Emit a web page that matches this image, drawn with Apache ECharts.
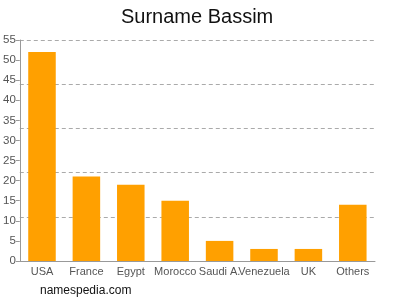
<!DOCTYPE html>
<html><head><meta charset="utf-8">
<script src="https://cdn.jsdelivr.net/npm/echarts@6/dist/echarts.min.js"></script>
<style>html,body{margin:0;padding:0;background:#fff}#c{width:400px;height:300px}</style>
</head><body><div id="c"></div>
<script>
const categories = ['USA','France','Egypt','Morocco','Saudi A.','Venezuela','UK','Others'];
const values = [52, 21, 19, 15, 5, 3, 3, 14];
const chart = echarts.init(document.getElementById('c'), null, {renderer:'canvas'});
chart.setOption({
  animation:false,
  title:[
    {text:'Surname Bassim', left:116, top:2, textStyle:{fontFamily:'Liberation Sans, Arial', fontSize:20, fontWeight:'normal', color:'#111'}},
    {text:'namespedia.com', left:35, top:280, textStyle:{fontFamily:'Liberation Sans, Arial', fontSize:12, fontWeight:'normal', color:'#111'}}
  ],
  grid:{left:18, right:25, top:40, bottom:39, containLabel:false},
  xAxis:{type:'category', data:categories,
    axisLine:{lineStyle:{color:'#999'}},
    axisTick:{alignWithLabel:true, length:3, lineStyle:{color:'#999'}},
    axisLabel:{color:'#555', fontSize:11, fontFamily:'Liberation Sans, Arial', margin:5, interval:0, hideOverlap:false, overflow:'none', width:80}},
  yAxis:[
    {type:'value', min:0, max:55, interval:5,
     axisLine:{show:true, lineStyle:{color:'#999'}},
     axisTick:{show:true, length:4, lineStyle:{color:'#999'}},
     axisLabel:{color:'#555', fontSize:11.5, fontFamily:'Liberation Sans, Arial', margin:4},
     splitLine:{show:false}},
    {type:'value', min:0, max:55, interval:11, position:'left',
     axisLine:{show:false}, axisTick:{show:false}, axisLabel:{show:false},
     splitLine:{show:true, lineStyle:{color:'#aaa', type:[4,3]}}}
  ],
  series:[{type:'bar', data:values, yAxisIndex:0, barWidth:'62%', itemStyle:{color:'#FFA000'}}]
});
</script></body></html>
